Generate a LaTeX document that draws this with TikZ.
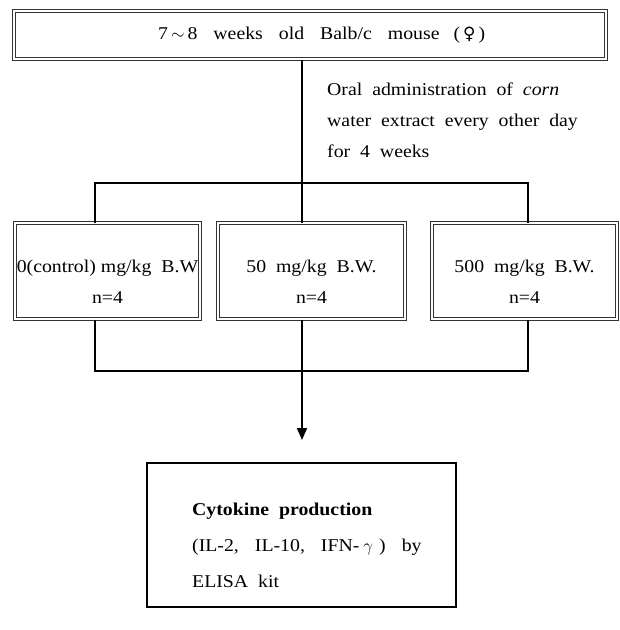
\documentclass[tikz,border=0pt]{standalone}
\usepackage{fontspec}
\setmainfont[FakeStretch=1.1]{Liberation Serif}
\newfontfamily\symfont{DejaVu Sans}
\usetikzlibrary{positioning, arrows.meta}

\begin{document}
\begin{tikzpicture}[
        x=1pt, y=-1pt,
        font=\fontsize{18}{31}\selectfont,
        dbox/.style={draw=black!80, double=white, double distance=1.1pt, line width=1pt, inner sep=0pt},
        link/.style={line width=1.8pt},
        txt/.style={inner sep=0pt, align=center},
    ]
    \useasboundingbox (0,0) rectangle (620,630);

    \node[dbox, minimum width=592, minimum height=48] (mouse) at (310,35) {};
    \node[txt, anchor=west] (mousetext) at (158,35) {7\,$\sim$\,8\hspace{16pt}weeks\hspace{16pt}old\hspace{16pt}Balb/c\hspace{16pt}mouse\hspace{14pt}(\,{\symfont\fontsize{17}{17}\selectfont ♀}\,)};

    \node[txt, anchor=north west, align=left] (oral) at (327,83) {Oral\ \ administration\ \ of\ \ \textit{corn}\\water\ \ extract\ \ every\ \ other\ \ day\\for\ \ 4\ \ weeks};

    \node[dbox, minimum width=185, minimum height=96] (low) at (107.5,271) {};
    \node[dbox, minimum width=187, minimum height=96] (mid) at (311.5,271) {};
    \node[dbox, minimum width=185, minimum height=96] (high) at (524.5,271) {};
    \node[txt, yshift=-11pt] (lowtext) at (low.center) {0(control)\ mg/kg\ \ B.W\\n=4};
    \node[txt, yshift=-11pt] (midtext) at (mid.center) {50\ \ mg/kg\ \ B.W.\\n=4};
    \node[txt, yshift=-11pt] (hightext) at (high.center) {500\ \ mg/kg\ \ B.W.\\n=4};

    \node[draw, line width=1.8pt, minimum width=309, minimum height=144, inner sep=0pt] (elisa) at (301.5,535) {};
    \node[txt, anchor=north west, align=left, font=\fontsize{18}{36}\selectfont] (elisatext) at (192,503) {\textbf{Cytokine\ \ production}\\(IL-2,\hspace{16pt}IL-10,\hspace{16pt}IFN-\hspace{4pt}$\gamma$\hspace{6pt})\hspace{16pt}by\\ELISA\ \ kit};

    \coordinate (split) at (302,183);
    \coordinate (lt) at (95,183);
    \coordinate (rt) at (528,183);
    \coordinate (lb) at (95,371);
    \coordinate (rb) at (528,371);
    \coordinate (tip) at (302,440);

    \draw[link] (mouse.south -| split) -- (split);
    \draw[link] (lt |- low.north) -- (lt) -- (rt) -- (rt |- high.north);
    \draw[link] (split) -- (split |- mid.north);
    \draw[link] (lb |- low.south) -- (lb) -- (rb) -- (rb |- high.south);
    \draw[link, -{Triangle[width=10pt, length=12pt]}] (mid.south -| split) -- (tip);
\end{tikzpicture}
\end{document}
